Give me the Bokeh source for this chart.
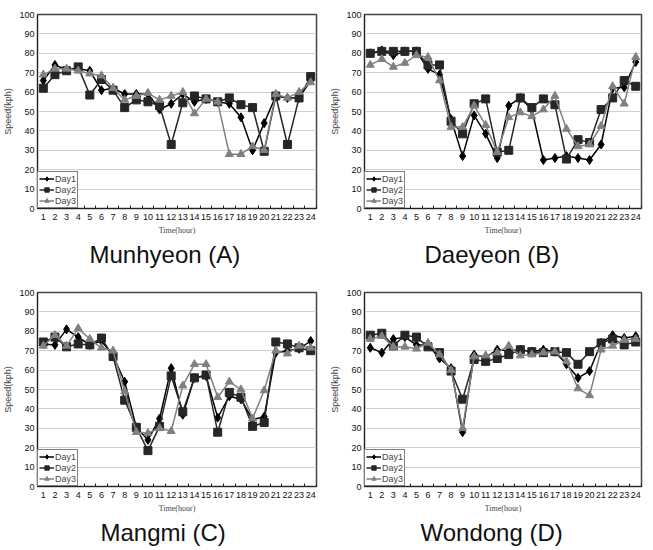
from bokeh.plotting import figure
from bokeh.layouts import gridplot
from bokeh.models import FixedTicker, Legend, LegendItem, Range1d
from bokeh.embed import file_html
from bokeh.resources import INLINE

hours = list(range(1, 25))
y_ticks = list(range(0, 101, 10))
series_names = ["Day1", "Day2", "Day3"]

munhyeon_day1 = [66, 74, 71.5, 72, 71, 61, 62, 59, 59, 59, 51, 54, 59, 55, 56.5, 55, 54, 47, 30, 44, 58, 57, 57, 66]
munhyeon_day2 = [62, 69, 71, 73, 58.5, 66.5, 61, 52, 56, 55, 53, 33, 54.5, 58, 56.5, 55, 57, 53.5, 52, 29.5, 58, 33, 57, 68]
munhyeon_day3 = [69, 72, 72, 71, 69.5, 68.5, 62, 56, 58, 59.5, 56, 58, 60, 49, 56.5, 55, 28, 28, 32, 30, 59, 57, 60, 65]

daeyeon_day1 = [80, 81.5, 79, 81, 81, 72, 69, 46, 27, 48, 38.5, 26, 53, 57, 51, 25, 26, 27, 26, 25, 33, 62, 62.5, 75.5]
daeyeon_day2 = [80, 81, 81, 81, 81, 74, 74, 45, 38.5, 54, 56.5, 29, 30, 57, 52, 56.5, 53.5, 25.5, 35.5, 34, 51, 57, 66, 63]
daeyeon_day3 = [74, 77, 73, 75, 79, 78, 66, 42, 42, 53, 43, 29, 47, 49.5, 47.5, 51, 58, 41, 32, 33, 42.5, 63, 54, 78]

mangmi_day1 = [73.5, 73, 81, 77, 73, 75, 67.5, 54, 30.5, 24, 35, 61, 37, 56, 57, 35.5, 46.5, 45, 34.5, 36, 69, 70, 71, 75]
mangmi_day2 = [74.5, 77, 72, 73.5, 73, 76.5, 67, 44.5, 30.5, 18.5, 31, 57, 38.5, 56, 57.5, 28, 48.5, 46, 31, 33, 74.5, 73.5, 71.5, 70]
mangmi_day3 = [72.5, 78, 72.5, 81.5, 76, 71.5, 70, 49, 28, 27.5, 30, 28.5, 52, 63, 63, 46, 54, 50, 35, 49.5, 70, 68.5, 72.5, 71.5]

wondong_day1 = [71.5, 69, 76, 77, 73, 73, 66, 61, 28, 68, 66.5, 70.5, 70, 70.5, 69.5, 70.5, 69.5, 63, 56, 59.5, 74, 78, 76.5, 77.5]
wondong_day2 = [78, 79, 72.5, 78, 77, 72, 69, 59.5, 45, 65.5, 64.5, 66, 68, 70.5, 69.5, 69, 69.5, 69, 63, 69.5, 74, 76, 73, 74.5]
wondong_day3 = [76, 77.5, 72, 72, 71, 74, 68, 60, 30, 67, 67.5, 69, 72.5, 67.5, 68, 69, 69.5, 64.5, 50.5, 47, 70.5, 72.5, 75.5, 76]

FONT = "Liberation Sans"
STYLES = [
    dict(color="#000000", marker="diamond", size=9),
    dict(color="#262626", marker="square", size=8),
    dict(color="#808080", marker="triangle", size=8),
]


def make_panel(title, series, width, height, left, right, top, bottom, title_offset):
    p = figure(width=width, height=height,
               x_range=Range1d(0.5, 24.5), y_range=Range1d(0, 100),
               output_backend="svg", toolbar_location=None,
               title=title, title_location="below",
               min_border_left=left, min_border_right=right,
               min_border_top=top, min_border_bottom=bottom)
    p.outline_line_color = "#444444"
    p.outline_line_width = 1.5
    p.background_fill_color = "white"
    p.border_fill_color = "white"

    p.xgrid.visible = False
    p.ygrid.grid_line_color = "#cfcfcf"
    p.ygrid.grid_line_width = 1

    xa = p.xaxis[0]
    xa.ticker = FixedTicker(ticks=hours, minor_ticks=[h + 0.5 for h in range(0, 25)])
    xa.major_tick_in = 0
    xa.major_tick_out = 0
    xa.minor_tick_in = 3
    xa.minor_tick_out = 0
    xa.minor_tick_line_color = "#222222"
    xa.axis_line_color = "#222222"
    xa.major_label_text_font = FONT
    xa.major_label_text_font_size = "9px"
    xa.major_label_text_color = "#111111"
    xa.major_label_standoff = 5
    xa.axis_label = "Time(hour)"
    xa.axis_label_text_font = "Liberation Sans Narrow"
    xa.axis_label_text_font_size = "8px"
    xa.axis_label_text_font_style = "normal"
    xa.axis_label_standoff = 3

    ya = p.yaxis[0]
    ya.ticker = FixedTicker(ticks=y_ticks)
    ya.major_tick_in = 0
    ya.major_tick_out = 0
    ya.minor_tick_in = 0
    ya.minor_tick_out = 0
    ya.axis_line_color = "#222222"
    ya.major_label_text_font = FONT
    ya.major_label_text_font_size = "9px"
    ya.major_label_text_color = "#111111"
    ya.major_label_standoff = 3
    ya.axis_label = "Speed(kph)"
    ya.axis_label_text_font = FONT
    ya.axis_label_text_font_size = "9px"
    ya.axis_label_text_font_style = "normal"
    ya.axis_label_standoff = 3

    items = []
    for name, vals, st in zip(series_names, series, STYLES):
        ln = p.line(hours, vals, line_color=st["color"], line_width=1.5)
        sc = p.scatter(hours, vals, marker=st["marker"], size=st["size"],
                       fill_color=st["color"], line_color=st["color"])
        items.append(LegendItem(label=name, renderers=[ln, sc]))

    legend = Legend(items=items, location="bottom_left", margin=0, padding=1,
                    spacing=0, glyph_width=15, glyph_height=11, label_height=11,
                    label_standoff=1, label_text_font=FONT, label_text_font_size="9px",
                    border_line_color="#000000", border_line_width=1,
                    background_fill_color="white", background_fill_alpha=1.0)
    p.add_layout(legend, "center")

    p.title.text_font = FONT
    p.title.text_font_size = "24px"
    p.title.text_font_style = "normal"
    p.title.text_color = "#111111"
    p.title.align = "left"
    p.title.offset = title_offset
    p.title.standoff = 2
    return p


pA = make_panel("Munhyeon (A)", [munhyeon_day1, munhyeon_day2, munhyeon_day3],
                327, 275, 36, 11, 14, 67, 52)
pB = make_panel("Daeyeon (B)", [daeyeon_day1, daeyeon_day2, daeyeon_day3],
                326, 275, 36, 12, 14, 64, 60)
pC = make_panel("Mangmi (C)", [mangmi_day1, mangmi_day2, mangmi_day3],
                327, 275, 36, 11, 14, 64, 63)
pD = make_panel("Wondong (D)", [wondong_day1, wondong_day2, wondong_day3],
                326, 275, 35, 11, 17, 63, 56)

grid = gridplot([[pA, pB], [pC, pD]], toolbar_location=None)

open("out.html", "w").write(file_html(grid, INLINE))
